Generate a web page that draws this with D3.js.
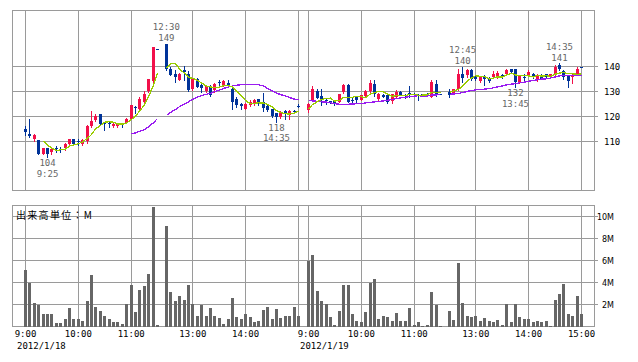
<!DOCTYPE html>
<html>
<head>
<meta charset="utf-8">
<script src="https://cdn.jsdelivr.net/npm/d3@7"></script>
<style>
	body { margin: 0; background: #fff; }
	svg text { fill: #000; }
</style>
</head>
<body>
<script>
// two trading days, 5 minute candles; slot 31 is the lunch break
const dates = ["2012/1/18", "2012/1/19"];

const slots = [
	"9:00", "9:05", "9:10", "9:15", "9:20", "9:25", "9:30", "9:35", "9:40", "9:45", "9:50", "9:55",
	"10:00", "10:05", "10:10", "10:15", "10:20", "10:25", "10:30", "10:35", "10:40", "10:45", "10:50", "10:55",
	"11:00", "11:05", "11:10", "11:15", "11:20", "11:25", "11:30",
	"",
	"12:30", "12:35", "12:40", "12:45", "12:50", "12:55",
	"13:00", "13:05", "13:10", "13:15", "13:20", "13:25", "13:30", "13:35", "13:40", "13:45", "13:50", "13:55",
	"14:00", "14:05", "14:10", "14:15", "14:20", "14:25", "14:30", "14:35", "14:40", "14:45", "14:50", "14:55",
	"15:00"
];

// [open, high, low, close]
const ohlc1 = [
	[115.0, 116.3, 112.6, 113.7], [113.1, 119.0, 112.0, 112.1], [111.0, 113.1, 110.2, 112.6], [110.5, 110.5, 105.1, 105.1],
	[105.1, 107.5, 105.0, 107.5], [107.3, 107.3, 103.8, 105.1], [105.7, 107.8, 104.9, 107.0], [107.5, 108.3, 105.9, 107.0],
	[107.0, 107.8, 105.9, 106.8], [107.5, 109.5, 106.5, 109.0], [109.1, 111.0, 109.0, 111.0], [111.0, 111.0, 109.1, 109.1],
	[110.2, 111.0, 108.6, 109.7], [109.1, 111.0, 108.8, 110.5], [110.2, 116.5, 109.5, 116.3], [116.3, 122.2, 116.0, 118.2],
	[118.7, 121.1, 118.2, 120.3], [121.1, 121.1, 116.9, 116.9], [117.4, 117.7, 114.7, 116.9], [117.5, 118.2, 116.0, 117.2],
	[116.1, 117.3, 115.8, 117.1], [116.1, 117.0, 116.0, 116.9], [117.1, 117.5, 115.8, 116.6], [117.5, 119.5, 117.3, 119.1],
	[119.1, 124.5, 118.9, 124.5], [124.0, 124.2, 121.3, 123.6], [122.9, 127.9, 122.6, 127.1], [125.8, 130.3, 125.5, 129.0],
	[130.1, 135.1, 129.8, 135.1], [134.1, 147.9, 133.5, 147.9], [146.9, 146.9, 146.9, 146.9],
	null,
	[149.2, 149.2, 138.6, 138.8], [139.1, 139.9, 136.5, 136.7], [137.0, 138.6, 133.8, 135.9], [134.6, 137.3, 134.6, 137.0],
	[138.5, 140.2, 134.6, 138.0], [137.1, 138.3, 130.3, 130.6], [130.8, 135.3, 130.6, 134.8], [135.0, 135.3, 131.7, 132.0],
	[132.4, 133.3, 129.9, 131.5], [130.1, 132.6, 130.0, 132.2], [131.8, 132.6, 128.2, 128.7], [130.6, 133.4, 130.0, 133.0],
	[134.0, 134.6, 132.5, 133.3], [132.3, 134.6, 132.2, 134.2], [133.5, 134.6, 131.7, 132.5], [131.1, 131.7, 122.9, 125.8],
	[127.1, 128.0, 124.0, 124.5], [125.0, 125.3, 122.9, 124.2], [123.1, 125.3, 122.9, 125.0], [124.7, 126.6, 124.2, 125.8],
	[125.0, 126.9, 124.7, 126.6], [126.9, 127.1, 124.5, 125.8], [126.0, 129.3, 122.2, 123.5], [124.2, 124.7, 122.3, 122.6],
	[123.1, 123.1, 119.9, 120.1], [121.3, 121.6, 118.0, 120.0], [119.8, 122.2, 119.6, 121.8], [122.1, 122.6, 119.2, 121.0],
	[120.7, 122.4, 119.2, 122.1], [122.1, 122.6, 121.3, 121.9], [124.2, 124.9, 123.7, 124.2]
];

const ohlc2 = [
	[122.6, 125.5, 121.9, 125.0], [126.6, 132.2, 126.4, 131.0], [130.3, 131.1, 127.3, 127.5], [128.3, 131.0, 124.4, 126.5],
	[126.6, 127.1, 125.0, 126.1], [126.1, 126.4, 125.3, 125.7], [126.3, 126.4, 124.7, 125.1], [125.9, 129.2, 125.7, 128.8],
	[129.7, 133.0, 129.5, 132.5], [132.5, 133.0, 125.8, 125.9], [126.6, 127.7, 125.5, 126.2], [127.7, 128.2, 125.8, 126.8],
	[126.8, 128.6, 126.5, 128.4], [128.3, 130.6, 128.0, 130.2], [130.1, 134.6, 129.8, 133.6], [133.1, 134.6, 128.2, 128.8],
	[127.1, 129.6, 126.6, 128.9], [128.4, 128.9, 127.8, 127.9], [128.6, 129.0, 125.6, 126.0], [126.2, 128.9, 125.6, 128.8],
	[128.0, 130.6, 127.6, 130.0], [130.0, 130.3, 128.4, 128.6], [128.6, 129.0, 127.4, 128.2], [129.3, 132.2, 128.0, 129.0],
	[128.9, 129.3, 128.3, 128.6], [128.5, 128.8, 126.8, 128.2], [128.8, 129.0, 128.5, 128.7], [129.0, 129.3, 128.5, 128.8],
	[128.0, 134.7, 127.9, 133.8], [133.0, 134.7, 128.3, 128.6], [128.8, 128.8, 128.8, 128.8],
	null,
	[130.0, 131.0, 127.8, 128.6], [129.0, 131.1, 128.8, 130.9], [130.8, 138.9, 130.6, 137.2], [137.0, 140.0, 134.0, 135.6],
	[136.5, 138.9, 135.9, 138.4], [138.7, 139.1, 134.6, 135.2], [136.2, 136.5, 134.6, 135.1], [134.3, 136.2, 133.8, 135.9],
	[135.9, 136.5, 132.7, 134.9], [135.4, 135.9, 133.8, 134.1], [135.7, 138.1, 135.4, 137.0], [135.7, 138.3, 135.4, 137.3],
	[136.7, 137.0, 135.5, 135.7], [137.0, 139.1, 136.7, 138.6], [138.9, 139.1, 137.7, 137.8], [138.9, 139.1, 131.7, 133.8],
	[133.8, 136.5, 133.3, 136.2], [135.8, 137.0, 134.4, 135.5], [136.5, 138.6, 136.2, 138.0], [137.0, 137.4, 135.5, 135.7],
	[134.6, 137.0, 134.3, 136.7], [136.7, 137.0, 134.8, 135.1], [137.0, 137.2, 135.6, 135.9], [135.7, 137.2, 135.5, 137.0],
	[136.7, 140.5, 135.9, 140.0], [140.5, 141.3, 138.6, 138.9], [138.3, 138.6, 134.9, 135.9], [136.2, 136.5, 131.7, 134.1],
	[135.7, 137.0, 133.5, 136.5], [136.7, 139.9, 136.4, 138.9], [139.9, 140.0, 139.9, 139.9]
];

// volume, millions of shares
const vol1 = [
	5.12, 4.0, 2.13, 1.95, 1.13, 1.13, 1.13, 0.3, 0.3, 0.64, 1.65, 0.64, 0.64, 0.46, 2.29, 4.66,
	1.74, 1.37, 0.91, 0.64, 0.37, 0.37, 0.27, 2.01, 3.75, 1.28, 3.29, 3.66, 4.76, 10.9, 0.18,
	null,
	9.15, 3.11, 2.29, 2.74, 2.38, 3.75, 2.01, 0.91, 1.95, 0.91, 1.65, 0.91, 0.79, 0.27, 0.64,
	2.56, 0.82, 0.64, 1.1, 0.82, 0.37, 0.46, 1.46, 1.74, 0.64, 1.55, 0.73, 1.0, 1.0, 1.74, 1.0
];

const vol2 = [
	5.95, 6.49, 3.2, 2.29, 2.01, 0.82, 0.18, 1.37, 3.75, 3.75, 1.1, 0.46, 0.37, 1.28, 4.0, 4.3,
	0.64, 0.91, 0.82, 0.46, 1.19, 0.46, 0.46, 1.65, 0.18, 0.37, 0.09, 0.18, 3.11, 1.95, 0.09,
	null,
	1.37, 0.55, 5.76, 2.1, 1.0, 0.82, 0.91, 0.46, 0.73, 0.46, 0.37, 0.55, 0.18, 2.01, 0.37,
	2.01, 0.82, 0.64, 0.64, 0.37, 0.46, 0.37, 0.46, 0.09, 2.38, 2.93, 3.84, 1.1, 0.91, 2.74, 1.1
];

const priceTicks = [110, 120, 130, 140];
const volumeTicks = [2, 4, 6, 8, 10];
const gridSlots = [0, 12, 24, 38, 50, 62];
const axisSlots = [[0, 12, 24, 38, 50], [0, 12, 24, 38, 50, 62]];

// session highs and lows that carry a label
const marks = [
	{ day: 0, i: 5, at: "low" },
	{ day: 0, i: 32, at: "high" },
	{ day: 0, i: 57, at: "low" },
	{ day: 1, i: 35, at: "high" },
	{ day: 1, i: 47, at: "low" },
	{ day: 1, i: 57, at: "high" }
];

const UP = "#f2104a";
const DOWN = "#003399";
const GRID = "#9a9a9a";

const W = 638, H = 362;
const box = { left: 12.5, right: 594.5, ptop: 10.5, pbottom: 190.5, vtop: 205.5, vbottom: 326.5 };

const svg = d3.select("body").append("svg")
	.attr("width", W)
	.attr("height", H)
	.style("font-family", "'DejaVu Sans Mono', monospace");

const xSlot = d3.scaleLinear().domain([0, 62]).range([25.5, 298.5]);
const dayShift = 283;
const x = (day, i) => xSlot(i) + day * dayShift;
const px = (day, i) => Math.floor(x(day, i));

const y = d3.scaleLinear().domain([110, 140]).range([141.5, 66.5]);
const yv = d3.scaleLinear().domain([0, 10]).range([326.5, 216.5]);

// grid
const grid = svg.append("g")
	.attr("stroke", GRID)
	.attr("shape-rendering", "crispEdges");

for (let day = 0; day < 2; day++)
	for (let s of gridSlots) {
		const gx = px(day, s) + 0.5;
		grid.append("line").attr("x1", gx).attr("x2", gx).attr("y1", box.ptop).attr("y2", box.pbottom);
		grid.append("line").attr("x1", gx).attr("x2", gx).attr("y1", box.vtop).attr("y2", box.vbottom);
	}

grid.selectAll(".py").data(priceTicks).enter().append("line")
	.attr("x1", box.left).attr("x2", box.right + 3)
	.attr("y1", d => y(d)).attr("y2", d => y(d));

grid.selectAll(".vy").data(volumeTicks).enter().append("line")
	.attr("x1", box.left).attr("x2", box.right + 3)
	.attr("y1", d => yv(d)).attr("y2", d => yv(d));

for (let [t, b] of [[box.ptop, box.pbottom], [box.vtop, box.vbottom]])
	grid.append("rect")
		.attr("x", box.left).attr("y", t)
		.attr("width", box.right - box.left).attr("height", b - t)
		.attr("fill", "none");

// candles, flattened in time order so the averages run across sessions
const candles = [];
[ohlc1, ohlc2].forEach((arr, day) => arr.forEach((d, i) => {
	if (d) candles.push({ day, i, o: d[0], h: d[1], l: d[2], c: d[3] });
}));

function sma(n) {
	return candles.map((d, k) => k < n - 1 ? null : d3.mean(candles.slice(k - n + 1, k + 1), c => c.c));
}
const ma5 = sma(5), ma25 = sma(25);
candles.forEach((d, k) => { d.ma5 = ma5[k]; d.ma25 = ma25[k]; });

const cg = svg.append("g").attr("shape-rendering", "crispEdges");

cg.selectAll("line").data(candles).enter().append("line")
	.attr("x1", d => px(d.day, d.i) + 0.5)
	.attr("x2", d => px(d.day, d.i) + 0.5)
	.attr("y1", d => Math.round(y(d.h)))
	.attr("y2", d => Math.round(y(d.l)) + 1)
	.attr("stroke", d => d.c > d.o ? UP : DOWN);

cg.selectAll("rect").data(candles).enter().append("rect")
	.attr("x", d => px(d.day, d.i) - 1)
	.attr("width", 3)
	.attr("y", d => Math.round(y(Math.max(d.o, d.c))))
	.attr("height", d => Math.max(1, Math.round(y(Math.min(d.o, d.c))) - Math.round(y(Math.max(d.o, d.c)))))
	.attr("fill", d => d.c > d.o ? UP : DOWN);

// moving averages, broken at lunch and overnight
const sessions = d3.groups(candles, d => d.day * 2 + (d.i > 31 ? 1 : 0)).map(g => g[1]);

for (let [key, color] of [["ma25", "#9a1cf0"], ["ma5", "#99cc00"]]) {
	const line = d3.line()
		.defined(d => d[key] != null)
		.x(d => px(d.day, d.i) + 0.5)
		.y(d => y(d[key]));

	svg.append("g").selectAll("path").data(sessions).enter().append("path")
		.attr("d", line)
		.attr("fill", "none")
		.attr("stroke", color)
		.attr("stroke-width", 1.3)
		.attr("shape-rendering", "crispEdges");
}

// volume
const vols = [];
[vol1, vol2].forEach((arr, day) => arr.forEach((v, i) => { if (v != null) vols.push({ day, i, v }); }));

svg.append("g").attr("shape-rendering", "crispEdges")
	.selectAll("rect").data(vols).enter().append("rect")
	.attr("x", d => px(d.day, d.i) - 1)
	.attr("width", 3)
	.attr("y", d => Math.max(box.vtop + 1.5, yv(d.v)))
	.attr("height", d => yv(0) - Math.max(box.vtop + 1.5, yv(d.v)))
	.attr("fill", "#666");

// axis labels
const labels = svg.append("g").style("font-size", "9px");

labels.selectAll(".pl").data(priceTicks).enter().append("text")
	.attr("x", 604).attr("y", d => y(d) + 3)
	.text(d => d);

labels.selectAll(".vl").data(volumeTicks).enter().append("text")
	.attr("x", 614).attr("y", d => yv(d) + 3)
	.attr("text-anchor", "end")
	.style("font-family", "'DejaVu Sans', sans-serif")
	.style("font-size", "8px")
	.text(d => d + "M");

axisSlots.forEach((list, day) => {
	labels.append("g").selectAll("text").data(list).enter().append("text")
		.attr("x", s => x(day, s))
		.attr("y", 337)
		.attr("text-anchor", "middle")
		.text(s => slots[s]);

	labels.append("text")
		.attr("x", x(day, 0) - 8.5)
		.attr("y", 348.5)
		.text(dates[day]);
});

svg.append("text")
	.attr("x", 16).attr("y", 219)
	.style("font-family", "'Noto Sans CJK JP', sans-serif")
	.style("font-size", "10px")
	.style("letter-spacing", "1.3px")
	.text("出来高単位：M");

// high / low callouts
const days = [ohlc1, ohlc2];
const notes = svg.append("g")
	.style("font-size", "9px")
	.attr("text-anchor", "middle");

for (let m of marks) {
	const d = days[m.day][m.i];
	const cx = x(m.day, m.i);
	const v = m.at === "high" ? d[1] : d[2];
	const first = m.at === "high" ? slots[m.i] : Math.round(v);
	const second = m.at === "high" ? Math.round(v) : slots[m.i];
	const base = m.at === "high" ? y(v) - 2.5 - 10.8 : y(v) + 9;

	notes.append("text").attr("x", cx).attr("y", base).style("fill", "#666").text(first);
	notes.append("text").attr("x", cx).attr("y", base + 10.8).style("fill", "#666").text(second);
}
</script>
</body>
</html>
